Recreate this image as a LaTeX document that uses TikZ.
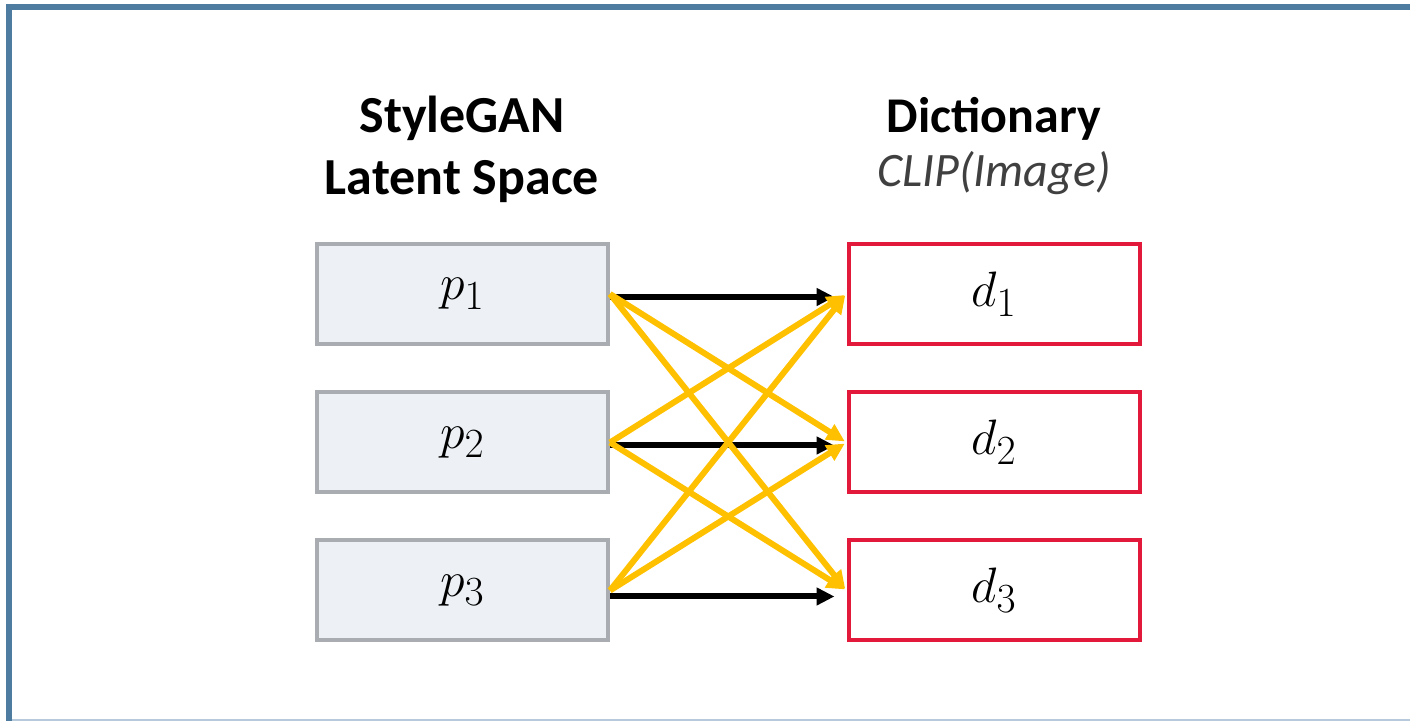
\documentclass[tikz,border=0pt]{standalone}
\usepackage{fontspec}
\setmainfont{Carlito}
\usetikzlibrary{arrows.meta}
\definecolor{frameblue}{HTML}{4E7BA0}
\definecolor{framelight}{HTML}{B7CADB}
\definecolor{latentgrey}{HTML}{A9ADB1}
\definecolor{latentfill}{HTML}{EDF1F5}
\definecolor{dictred}{HTML}{E3193B}
\definecolor{mapyellow}{HTML}{FFC000}
\definecolor{subgrey}{HTML}{404040}
\begin{document}
\begin{tikzpicture}[x=0.5pt,y=0.5pt,
  latent/.style={rectangle, fill=latentfill, draw=latentgrey, line width=2pt, minimum width=145.5pt, minimum height=50pt, font=\fontsize{28}{32}\selectfont},
  dict/.style={rectangle, fill=white, draw=dictred, line width=2pt, minimum width=145.5pt, minimum height=50pt, font=\fontsize{28}{32}\selectfont},
  head/.style={anchor=base, inner sep=0pt, font=\fontsize{26}{30}\selectfont\bfseries},
  sub/.style={anchor=base, inner sep=0pt, text=subgrey, font=\fontsize{24}{30}\selectfont\itshape},
  direct/.style={-{Triangle[length=9pt,width=8.5pt]}, line width=3pt, black, shorten >=6pt},
  cross/.style={-{Triangle[length=9pt,width=8.5pt]}, line width=3pt, mapyellow, shorten >=1pt}]
\useasboundingbox (0,0) rectangle (1410,721);
% frame
\draw [frameblue, line width=3pt] (9,-10) -- (9,714) -- (1430,714);
\draw [framelight, line width=1pt] (12,0.5) -- (1430,0.5);
% headings
\node [head] (lhead1) at (462,588) {StyleGAN};
\node [head] (lhead2) at (462,526) {Latent Space};
\node [head, font=\fontsize{25}{30}\selectfont\bfseries] (rhead) at (994,588) {Dictionary};
\node [sub] (rsub) at (994,534) {CLIP(Image)};
% latent codes
\node [latent] (p1) at (462.5,427) {$p_1$};
\node [latent] (p2) at (462.5,278.5) {$p_2$};
\node [latent] (p3) at (462.5,130.5) {$p_3$};
% dictionary entries
\node [dict] (d1) at (994,427) {$d_1$};
\node [dict] (d2) at (994,278.5) {$d_2$};
\node [dict] (d3) at (994,130.5) {$d_3$};
% direct matches
\draw [direct] ([yshift=-1.5pt]p1.east) -- ([yshift=-1.5pt]d1.west);
\draw [direct] ([yshift=-1.5pt]p2.east) -- ([yshift=-1.5pt]d2.west);
\draw [direct] ([yshift=-3pt]p3.east) -- ([yshift=-3pt]d3.west);
% cross matches
\foreach \i/\j in {1/2,1/3,2/1,2/3,3/1,3/2}
  \draw [cross] (p\i.east) -- (d\j.west);
\end{tikzpicture}
\end{document}
